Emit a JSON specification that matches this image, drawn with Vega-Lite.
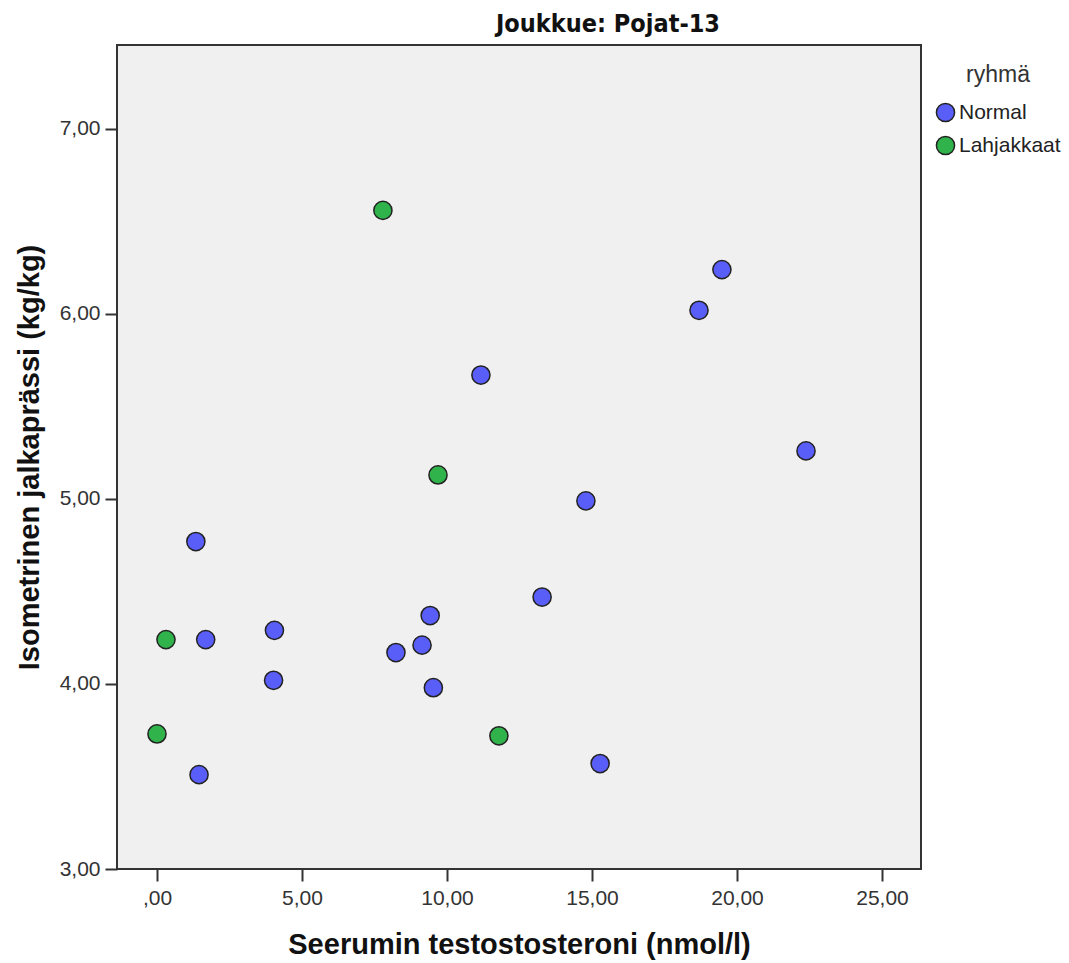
{
  "$schema": "https://vega.github.io/schema/vega-lite/v6.json",
  "autosize": {"type": "none"},
  "padding": {"left": 117, "top": 45, "right": 148, "bottom": 94},
  "width": 804,
  "height": 824,
  "background": "white",
  "title": {
    "text": "Joukkue: Pojat-13",
    "font": "DejaVu Sans Condensed, Liberation Sans",
    "fontSize": 25,
    "fontWeight": "bold",
    "color": "#111",
    "anchor": "middle",
    "dx": 89,
    "offset": 8
  },
  "config": {
    "view": {"fill": "#f0f0f0", "stroke": "#333", "strokeWidth": 2},
    "axis": {
      "labelFont": "Liberation Sans",
      "labelFontSize": 21,
      "labelColor": "#333",
      "titleFont": "Liberation Sans",
      "titleFontWeight": "bold",
      "titleColor": "#111",
      "tickColor": "#333",
      "tickWidth": 2,
      "tickSize": 12,
      "grid": false,
      "domain": false
    }
  },
  "data": {
    "values": [
      {"testo": 1.34, "jalka": 4.77, "ryhma": "Normal"},
      {"testo": 1.68, "jalka": 4.24, "ryhma": "Normal"},
      {"testo": 1.45, "jalka": 3.51, "ryhma": "Normal"},
      {"testo": 4.05, "jalka": 4.29, "ryhma": "Normal"},
      {"testo": 4.02, "jalka": 4.02, "ryhma": "Normal"},
      {"testo": 8.24, "jalka": 4.17, "ryhma": "Normal"},
      {"testo": 9.14, "jalka": 4.21, "ryhma": "Normal"},
      {"testo": 9.42, "jalka": 4.37, "ryhma": "Normal"},
      {"testo": 9.53, "jalka": 3.98, "ryhma": "Normal"},
      {"testo": 11.17, "jalka": 5.67, "ryhma": "Normal"},
      {"testo": 13.28, "jalka": 4.47, "ryhma": "Normal"},
      {"testo": 14.79, "jalka": 4.99, "ryhma": "Normal"},
      {"testo": 15.28, "jalka": 3.57, "ryhma": "Normal"},
      {"testo": 18.69, "jalka": 6.02, "ryhma": "Normal"},
      {"testo": 19.48, "jalka": 6.24, "ryhma": "Normal"},
      {"testo": 22.38, "jalka": 5.26, "ryhma": "Normal"},
      {"testo": 7.79, "jalka": 6.56, "ryhma": "Lahjakkaat"},
      {"testo": 9.69, "jalka": 5.13, "ryhma": "Lahjakkaat"},
      {"testo": 0.31, "jalka": 4.24, "ryhma": "Lahjakkaat"},
      {"testo": 0.0, "jalka": 3.73, "ryhma": "Lahjakkaat"},
      {"testo": 11.79, "jalka": 3.72, "ryhma": "Lahjakkaat"}
    ]
  },
  "mark": {"type": "point", "filled": true, "size": 330, "stroke": "#222", "strokeWidth": 1.5, "opacity": 1},
  "encoding": {
    "x": {
      "field": "testo",
      "type": "quantitative",
      "title": "Seerumin testostosteroni (nmol/l)",
      "scale": {"domain": [-1.379, 26.345], "nice": false, "zero": false},
      "axis": {
        "values": [0, 5, 10, 15, 20, 25],
        "labelExpr": "datum.value == 0 ? ',00' : replace(format(datum.value, '.2f'), '.', ',')",
        "labelPadding": 6,
        "titleFontSize": 29,
        "titleY": 75,
        "titleBaseline": "middle"
      }
    },
    "y": {
      "field": "jalka",
      "type": "quantitative",
      "title": "Isometrinen jalkaprässi (kg/kg)",
      "scale": {"domain": [3, 7.454], "nice": false, "zero": false},
      "axis": {
        "values": [3, 4, 5, 6, 7],
        "labelExpr": "replace(format(datum.value, '.2f'), '.', ',')",
        "labelPadding": 5,
        "titleFontSize": 29,
        "titleX": -88,
        "titleBaseline": "middle"
      }
    },
    "color": {
      "field": "ryhma",
      "type": "nominal",
      "title": "ryhmä",
      "scale": {"domain": ["Normal", "Lahjakkaat"], "range": ["#5a5ef8", "#2fb34a"]},
      "legend": {
        "orient": "none",
        "legendX": 818,
        "legendY": 19,
        "titleAnchor": "middle",
        "titleFont": "Liberation Sans",
        "titleFontSize": 23,
        "titleFontWeight": "normal",
        "titleColor": "#333",
        "titlePadding": 15,
        "labelFont": "Liberation Sans",
        "labelFontSize": 21,
        "labelColor": "#222",
        "labelOffset": 3,
        "symbolType": "circle",
        "symbolSize": 330,
        "symbolStrokeColor": "#222",
        "symbolStrokeWidth": 1.5,
        "symbolOpacity": 1,
        "rowPadding": 8
      }
    }
  }
}
